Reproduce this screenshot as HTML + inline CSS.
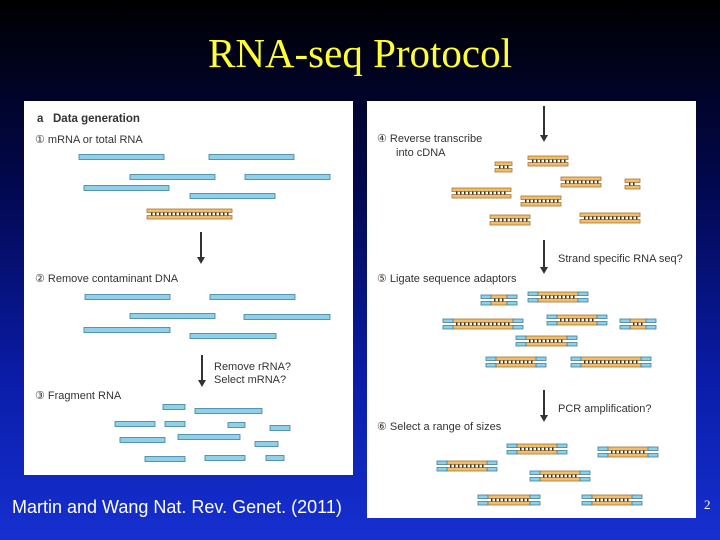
<!DOCTYPE html>
<html><head><meta charset="utf-8"><style>
html,body{margin:0;padding:0}
body{width:720px;height:540px;overflow:hidden;position:relative;background:linear-gradient(#000 0%,#020850 35%,#0a1ca8 70%,#1630d0 100%);font-family:"Liberation Sans",sans-serif}
#t{position:absolute;left:0;width:720px;top:29px;text-align:center;color:#ffff33;font-family:"Liberation Serif",serif;font-size:41px}
.p{position:absolute;background:#fff}
svg{position:absolute;left:0;top:0}
#f{position:absolute;left:12px;top:497px;color:#fff;font-size:18px}
#n{position:absolute;left:704px;top:497px;color:#fff;font-size:13px;font-family:"Liberation Serif",serif}
</style></head><body>
<div id="t">RNA-seq Protocol</div>
<div class="p" style="left:24px;top:101px;width:329px;height:374px"></div>
<div class="p" style="left:367px;top:101px;width:329px;height:417px"></div>
<svg id="s" width="720" height="540" font-family="Liberation Sans, sans-serif" font-size="11" fill="#333">
<text x="37" y="122" font-weight="bold" font-size="11.5">a</text><text x="53" y="122" font-weight="bold" font-size="11.5">Data generation</text>
<text x="35" y="143">① mRNA or total RNA</text>
<text x="35" y="282">② Remove contaminant DNA</text>
<text x="214" y="370">Remove rRNA?</text><text x="214" y="383">Select mRNA?</text>
<text x="35" y="399">③ Fragment RNA</text>
<text x="377" y="142">④ Reverse transcribe</text><text x="396" y="156">into cDNA</text>
<text x="558" y="262">Strand specific RNA seq?</text>
<text x="377" y="282">⑤ Ligate sequence adaptors</text>
<text x="558" y="412">PCR amplification?</text>
<text x="377" y="430">⑥ Select a range of sizes</text>
</svg>
<div id="f">Martin and Wang Nat. Rev. Genet. (2011)</div>
<div id="n">2</div>
<script>
var s=document.getElementById('s'),h='';
function r(x,y,w,hh,f,st){h+='<rect x="'+x+'" y="'+y+'" width="'+w+'" height="'+hh+'" fill="'+f+'" stroke="'+st+'" stroke-width="0.8"/>';}
function b(x1,x2,y){r(x1,y-2.5,x2-x1,5,'#8fd0ea','#3c7d9c');}
function d(x1,x2,y){r(x1,y-5,x2-x1,3.5,'#f2bd6a','#a0773a');r(x1,y+1.5,x2-x1,3.5,'#f2bd6a','#a0773a');for(var x=x1+4;x<x2-3;x+=4)h+='<rect x="'+x+'" y="'+(y-1.5)+'" width="1.5" height="3" fill="#333"/>';}
function a(x1,x2,y){d(x1,x2,y);r(x1-9,y-5,10,3.5,'#8fd0ea','#3c7d9c');r(x1-9,y+1.5,10,3.5,'#8fd0ea','#3c7d9c');r(x2-1,y-5,10,3.5,'#8fd0ea','#3c7d9c');r(x2-1,y+1.5,10,3.5,'#8fd0ea','#3c7d9c');}
function ar(x,y1,y2){h+='<line x1="'+x+'" y1="'+y1+'" x2="'+x+'" y2="'+(y2-6)+'" stroke="#333" stroke-width="2"/><polygon points="'+(x-4)+','+(y2-7)+' '+(x+4)+','+(y2-7)+' '+x+','+y2+'" fill="#333"/>';}
[[79,164,157],[209,294,157],[130,215,177],[245,330,177],[84,169,188],[190,275,196]].forEach(function(v){b(v[0],v[1],v[2])});
d(147,232,214);ar(201,232,264);
[[85,170,297],[210,295,297],[130,215,316],[244,330,317],[84,170,330],[190,276,336]].forEach(function(v){b(v[0],v[1],v[2])});
ar(202,355,387);
[[163,185,407],[195,262,411],[115,155,424],[165,185,424],[228,245,425],[270,290,428],[178,240,437],[120,165,440],[255,278,444],[145,185,459],[205,245,458],[266,284,458]].forEach(function(v){b(v[0],v[1],v[2])});
ar(544,106,142);
[[495,512,167],[528,568,161],[561,601,182],[625,640,184],[452,511,193],[521,561,201],[490,530,220],[580,640,218]].forEach(function(v){d(v[0],v[1],v[2])});
ar(544,240,274);
[[481,517,300],[528,588,297],[443,523,324],[547,607,320],[620,656,324],[516,577,341],[486,546,362],[571,651,362]].forEach(function(v){a(v[0]+9,v[1]-9,v[2])});
ar(544,390,422);
[[507,567,449],[598,658,452],[437,497,466],[530,590,476],[478,540,500],[582,642,500]].forEach(function(v){a(v[0]+9,v[1]-9,v[2])});
s.innerHTML+=h;
</script>
</body></html>
